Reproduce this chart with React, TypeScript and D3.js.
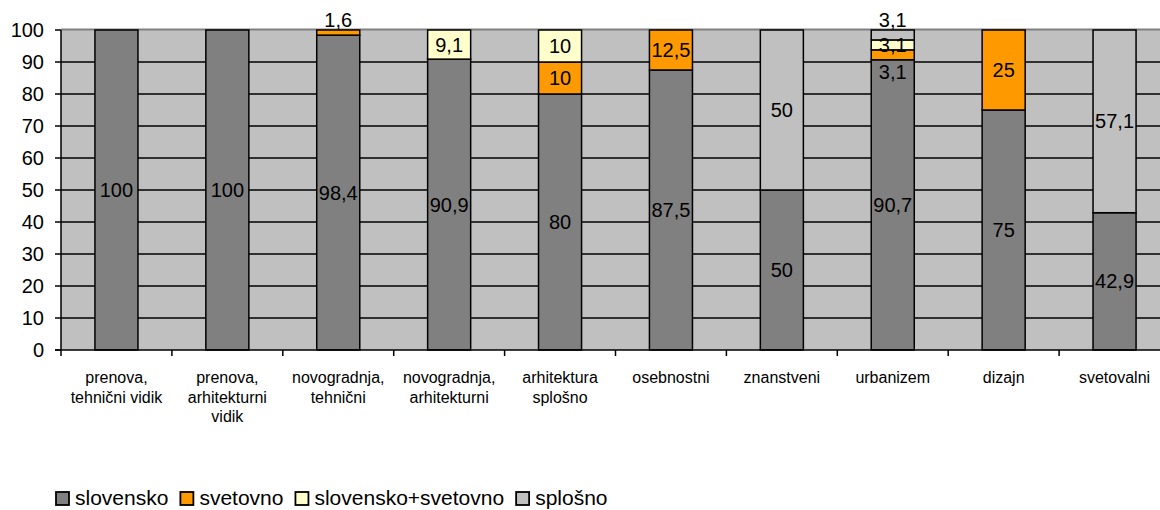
import React from "react";
import * as d3 from "d3";

const categories = [
  ["prenova,", "tehnični vidik"],
  ["prenova,", "arhitekturni", "vidik"],
  ["novogradnja,", "tehnični"],
  ["novogradnja,", "arhitekturni"],
  ["arhitektura", "splošno"],
  ["osebnostni"],
  ["znanstveni"],
  ["urbanizem"],
  ["dizajn"],
  ["svetovalni"],
];
const seriesNames = ["slovensko", "svetovno", "slovensko+svetovno", "splošno"];
const slovensko = [100, 100, 98.4, 90.9, 80, 87.5, 50, 90.7, 75, 42.9];
const svetovno = [0, 0, 1.6, 0, 10, 12.5, 0, 3.1, 25, 0];
const slovSvet = [0, 0, 0, 9.1, 10, 0, 0, 3.1, 0, 0];
const splosno = [0, 0, 0, 0, 0, 0, 50, 3.1, 0, 57.1];
const yTicks = [0, 10, 20, 30, 40, 50, 60, 70, 80, 90, 100];

const colors = ["#808080", "#FF9900", "#FFFFCC", "#C0C0C0"];
const FONT = "Arial, 'Liberation Sans', sans-serif";

// label placement tweaks (category index, series index) -> mode
const labelAbove = new Set(["2-1", "7-3"]);
const labelBelow = new Set(["7-1"]);

export default function App() {
  const W = 1160, H = 510;
  const left = 61, right = 1170, top = 30, bottom = 350;
  const idx = categories.map((_, i) => String(i));
  const x = d3.scaleBand().domain(idx).range([left, right]).paddingInner(0.612).paddingOuter(0.306);
  const y = d3.scaleLinear().domain([0, 100]).range([bottom, top]);
  const step = x.step();

  const rows = categories.map((_, i) => ({
    i: String(i),
    s0: slovensko[i], s1: svetovno[i], s2: slovSvet[i], s3: splosno[i],
  }));
  const stack = d3.stack<any>().keys(["s0", "s1", "s2", "s3"])(rows);

  const fmt = (v: number) => String(v).replace(".", ",");

  // legend layout
  const canvas = document.createElement("canvas");
  const ctx = canvas.getContext("2d")!;
  ctx.font = "21px Arial, 'Liberation Sans'";
  let lx = 56;
  const legendItems = seriesNames.map((n, k) => {
    const item = { n, k, x: lx };
    lx += 13 + 6 + ctx.measureText(n).width + 12;
    return item;
  });

  return (
    <svg width={W} height={H} style={{ position: "absolute", left: 0, top: 0, background: "#fff" }} fontFamily={FONT}>
      <rect x={left} y={top} width={right - left} height={bottom - top} fill="#C0C0C0" />
      <line x1={left} x2={right} y1={top - 0.5} y2={top - 0.5} stroke="#808080" strokeWidth={2} />
      {yTicks.filter((t) => t > 0 && t < 100).map((t) => (
        <line key={t} x1={left} x2={right} y1={y(t)} y2={y(t)} stroke="#000" strokeWidth={1.5} />
      ))}
      {stack.map((layer, k) =>
        layer.map((d, i) => {
          const h = y(d[0]) - y(d[1]);
          if (h <= 0) return null;
          return (
            <rect key={`${k}-${i}`} x={x(String(i))!} y={y(d[1])} width={x.bandwidth()} height={h}
              fill={colors[k]} stroke="#000" strokeWidth={1.5} />
          );
        })
      )}
      {stack.map((layer, k) =>
        layer.map((d, i) => {
          const v = d[1] - d[0];
          if (v <= 0) return null;
          const key = `${i}-${k}`;
          const cx = x(String(i))! + x.bandwidth() / 2;
          let cy = (y(d[0]) + y(d[1])) / 2 + 7;
          if (labelAbove.has(key)) cy = y(d[1]) - 3;
          if (labelBelow.has(key)) cy = y(d[0]) + 19;
          return (
            <text key={`l${key}`} x={cx} y={cy} textAnchor="middle" fontSize={20} fill="#000">{fmt(Math.round(v * 10) / 10)}</text>
          );
        })
      )}
      <line x1={left} x2={left} y1={top} y2={bottom} stroke="#000" strokeWidth={1.5} />
      <line x1={left - 6} x2={right} y1={bottom} y2={bottom} stroke="#000" strokeWidth={1.5} />
      {yTicks.map((t) => (
        <g key={`yt${t}`}>
          <line x1={left - 6} x2={left} y1={y(t)} y2={y(t)} stroke="#000" strokeWidth={1.5} />
          <text x={44} y={y(t) + 7} textAnchor="end" fontSize={20} fill="#000">{t}</text>
        </g>
      ))}
      {idx.map((c, i) => (
        <line key={`xt${c}`} x1={left + i * step} x2={left + i * step} y1={bottom} y2={bottom + 6} stroke="#000" strokeWidth={1.5} />
      ))}
      {categories.map((lines, i) => (
        <text key={`cl${i}`} x={x(String(i))! + x.bandwidth() / 2} y={383} textAnchor="middle" fontSize={16} fill="#000">
          {lines.map((ln, j) => (
            <tspan key={j} x={x(String(i))! + x.bandwidth() / 2} y={383 + j * 19.5}>{ln}</tspan>
          ))}
        </text>
      ))}
      {legendItems.map((it) => (
        <g key={it.n}>
          <rect x={it.x} y={492} width={13} height={13} fill={colors[it.k]} stroke="#000" strokeWidth={1.8} />
          <text x={it.x + 19} y={505} fontSize={21} fill="#000">{it.n}</text>
        </g>
      ))}
    </svg>
  );
}
